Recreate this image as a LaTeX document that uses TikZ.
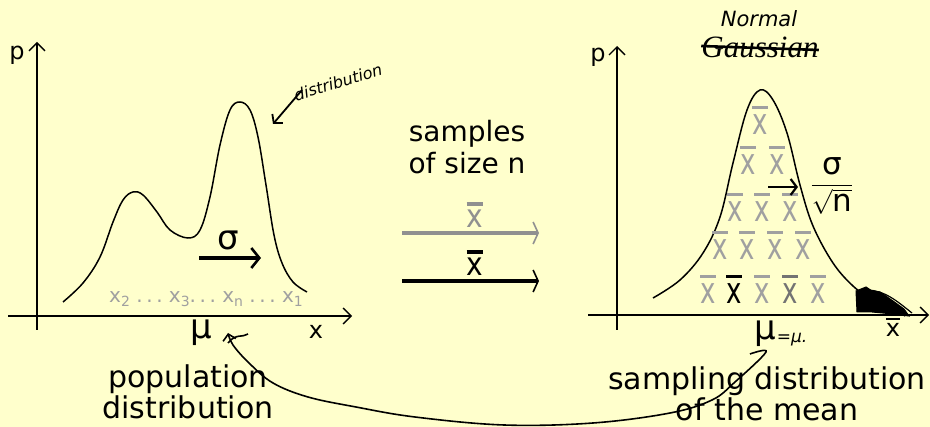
\documentclass[tikz,border=0pt]{standalone}
\usepackage{amsmath}
\usepackage{graphicx}
\usepackage{fontspec}
\setmainfont{DejaVu Sans}
\newfontfamily\serifit{Liberation Serif}
\usetikzlibrary{arrows.meta, positioning}

\definecolor{paper}{RGB}{255,255,204}
\definecolor{lgray}{RGB}{160,160,160}
\definecolor{dgray}{RGB}{115,115,115}

% x with a bar over it
\newcommand\xbar{\leavevmode\vbox{\offinterlineskip
  \hbox to 0.62em{\hss\vrule width 0.6em height 0.1em\hss}\vskip0.14em
  \hbox to 0.62em{\hss x\hss}}}
\newcommand\xbarv[1]{\scalebox{1}[#1]{\xbar}}
\newcommand\sub[1]{\raisebox{-0.35ex}{\fontsize{14}{14}\selectfont #1}}
\newcommand\sdots{.\hspace{0.18em}.\hspace{0.18em}.}

\begin{document}
\begin{tikzpicture}[x=1pt,y=-1pt,
  axis/.style={line width=1.4pt, -{Straight Barb[length=8pt,width=16pt,line width=1.4pt]}},
  curve/.style={line width=1.5pt},
  lbl/.style={font=\fontsize{24}{24}\selectfont, inner sep=0pt},
  big/.style={font=\fontsize{30}{31}\selectfont, align=center, inner sep=0pt},
  hand/.style={font=\fontsize{16}{16}\itshape\selectfont, inner sep=0pt},
  gridx/.style={font=\fontsize{26}{26}\selectfont, inner sep=0pt, text=lgray}]

\useasboundingbox[fill=paper] (0,0) rectangle (930,427);

% population distribution
\draw[axis] (37,330) -- (37,42);
\draw[axis] (8,316) -- (352,316);
\node[lbl] (p1) at (17,55) {p};
\node[lbl] (x1) at (316,332) {x};
\draw[curve] plot[smooth, tension=0.6] coordinates {(63,302) (83,283) (100,257) (113,222) (123,200) (133,192)
  (143,195) (157,212) (170,230) (188,238) (200,230) (210,197) (220,145) (230,110) (240,102)
  (250,110) (258,137) (266,185) (274,235) (282,263) (293,282) (307,292)};
\node[font=\fontsize{20}{20}\selectfont, text=lgray, inner sep=0pt] (xs) at (206,299)
  {x\sub{2} \sdots\ x\sub{3}\sdots\ x\sub{n} \sdots\ x\sub{1}};
\node[font=\fontsize{34}{34}\selectfont, inner sep=0pt] (sig1) at (228,240) {σ};
\coordinate (s1a) at (199,258);
\coordinate (s1b) at (261,258);
\draw[line width=3.4pt, -{Straight Barb[length=8pt,width=20pt,line width=2.6pt]}] (s1a) -- (s1b);
\node[font=\fontsize{34}{34}\selectfont, inner sep=0pt] (mu1) at (201,333) {μ};
\node[big] (pop) at (188,392) {population\\distribution};
\node[hand, rotate=17] (dist) at (338,82) {distribution};
\coordinate (d1) at (302,90);
\coordinate (d2) at (273,124);
\draw[line width=1.8pt, -{Straight Barb[length=6pt,width=14pt,line width=1.8pt]}] (d1) -- (d2);

% samples
\node[font=\fontsize{28}{32}\selectfont, align=center, inner sep=0pt] (smp) at (467,147) {samples\\of size n};
\coordinate (ga) at (402,233);
\coordinate (gb) at (539,233);
\coordinate (ba) at (402,281);
\coordinate (bb) at (539,281);
\draw[lgray!90!black, line width=4pt, -{Straight Barb[length=5pt,width=22pt,line width=1.6pt]}] (ga) -- (gb);
\draw[line width=3.6pt, -{Straight Barb[length=5pt,width=22pt,line width=1.6pt]}] (ba) -- (bb);
\node[gridx, font=\fontsize{28}{28}\selectfont, above=5pt of ga, xshift=73pt, text=lgray!90!black] (xg) {\xbarv{1.15}};
\node[gridx, font=\fontsize{28}{28}\selectfont, above=5pt of ba, xshift=73pt, text=black] (xk) {\xbarv{1.15}};

% sampling distribution of the mean
\draw[axis] (617,330) -- (617,46);
\draw[axis] (588,315) -- (929,315);
\node[lbl] (p2) at (598,57) {p};
\node[lbl] (x2) at (893,327) {\xbar};
\draw[curve] plot[smooth, tension=0.6] coordinates {(653,298) (680,280) (703,253) (720,217) (733,163)
  (747,110) (760,90) (773,100) (787,133) (800,185) (813,226) (833,263) (853,286) (872,300)};
\foreach \xx/\yy/\cc [count=\i] in {760/120/lgray,
    748/160/lgray, 777/160/lgray,
    735/207/lgray, 762/207/lgray, 790/207/lgray,
    720/245/lgray, 747/245/lgray, 775/245/lgray, 803/245/lgray,
    708/289/lgray, 734/289/black, 762/289/lgray, 790/289/dgray, 818/289/lgray}
  \node[gridx, text=\cc] (xb\i) at (\xx,\yy) {\xbarv{1.4}};
\coordinate (s2a) at (768,187);
\coordinate (s2b) at (798,187);
\draw[line width=2.8pt, -{Straight Barb[length=6pt,width=16pt,line width=2.2pt]}] (s2a) -- (s2b);
\node[font=\fontsize{31}{31}\selectfont, inner sep=0pt] (sig2) at (832,186)
  {$\dfrac{\mbox{σ}}{\sqrt{\mbox{n}}}$};
\node[font=\fontsize{34}{34}\selectfont, inner sep=0pt] (mu2) at (765,334) {μ};
\node[hand, font=\fontsize{17}{17}\itshape\selectfont] (mu2s) at (792,340) {=μ.};
\node[big] (smd) at (767,394) {sampling distribution\\of the mean};
\node[font=\fontsize{31}{31}\serifit\itshape\selectfont, inner sep=0pt] (gauss) at (760,47) {Gaussian};
\draw[line width=2.6pt] (gauss.west) ++(0,-1) -- ([yshift=-3pt]gauss.east);
\node[hand, font=\fontsize{21}{21}\itshape\selectfont] (norm) at (759,19) {Normal};
\filldraw[line width=1pt] (856,291) -- (866,287) -- (872,291) -- (880,292) -- (893,301) -- (904,309) -- (909,316)
  -- (893,314) -- (872,312) -- (857,312) -- cycle;
\draw[line width=1.2pt] (862,296) -- (905,316) (866,290) .. controls (885,290) and (898,302) .. (912,313);

% mu link
\coordinate (m2) at (750,354);
\coordinate (m1) at (228,333);
\draw[line width=1.6pt, -{Straight Barb[length=6pt,width=13pt,line width=1.6pt]}]
  plot[smooth, tension=0.6] coordinates {(m2) (766,352) (735,382) (712,400) (670,413) (593,423)
  (504,425) (415,417) (356,407) (308,397) (273,383) (249,363) (233,345) (m1)};
\draw[line width=1.6pt] (228,343) .. controls (236,333) and (242,338) .. (248,334);

\end{tikzpicture}
\end{document}
